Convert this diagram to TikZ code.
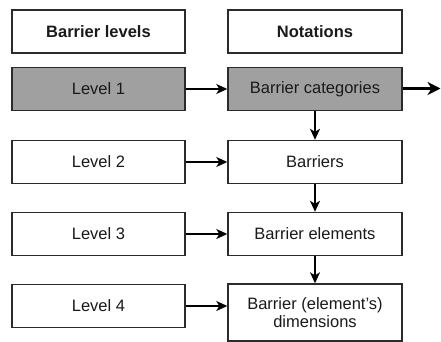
\documentclass[tikz,border=0pt]{standalone}
\usepackage{fontspec}
\setmainfont{Liberation Sans}
\usetikzlibrary{arrows.meta}
\definecolor{boxline}{HTML}{2B2B2B}
\definecolor{grayfill}{HTML}{A0A0A0}
\definecolor{txt}{HTML}{1A1A1A}
\begin{document}
\begin{tikzpicture}[x=1pt,y=-1pt,
  box/.style={draw=boxline, line width=1.4pt, fill=white, text=txt, inner sep=0pt,
    minimum height=43pt, align=center, font=\fontsize{16.5}{18.5}\selectfont},
  lbox/.style={box, minimum width=173pt},
  rbox/.style={box, minimum width=174pt},
  shaded/.style={fill=grayfill},
  hdr/.style={font=\fontsize{16.5}{18.5}\selectfont\bfseries},
  conn/.style={draw=black, line width=1.5pt, -{Stealth[length=11pt,width=10pt,inset=3pt]}},
  bigconn/.style={draw=black, line width=2.8pt, -{Stealth[length=13pt,width=13pt,inset=4pt]}}]
\useasboundingbox (0,0) rectangle (441,342);
\node[lbox,hdr] (l0) at (98.5,31.5) {Barrier levels};
\node[rbox,hdr] (r0) at (315,31.5) {Notations};
\node[lbox,shaded] (l1) at (98.5,89) {Level 1};
\node[rbox,shaded] (r1) at (315,89) {Barrier categories};
\node[lbox] (l2) at (98.5,162) {Level 2};
\node[rbox] (r2) at (315,162) {Barriers};
\node[lbox] (l3) at (98.5,234) {Level 3};
\node[rbox] (r3) at (315,234) {Barrier elements};
\node[lbox] (l4) at (98.5,306) {Level 4};
\node[rbox, minimum height=57pt] (r4) at (315,312.5) {Barrier (element's)\\dimensions};
\coordinate (out) at (440.5,88.5);
\draw[conn] (l1.east) -- (r1.west);
\draw[conn] (l2.east) -- (r2.west);
\draw[conn] (l3.east) -- (r3.west);
\draw[conn] (l4.east) -- (l4.east -| r4.west);
\draw[conn] (r1.south) -- (r2.north);
\draw[conn] (r2.south) -- (r3.north);
\draw[conn] (r3.south) -- (r4.north);
\draw[bigconn] ([yshift=0.5pt]r1.east) -- (out);
\end{tikzpicture}
\end{document}
